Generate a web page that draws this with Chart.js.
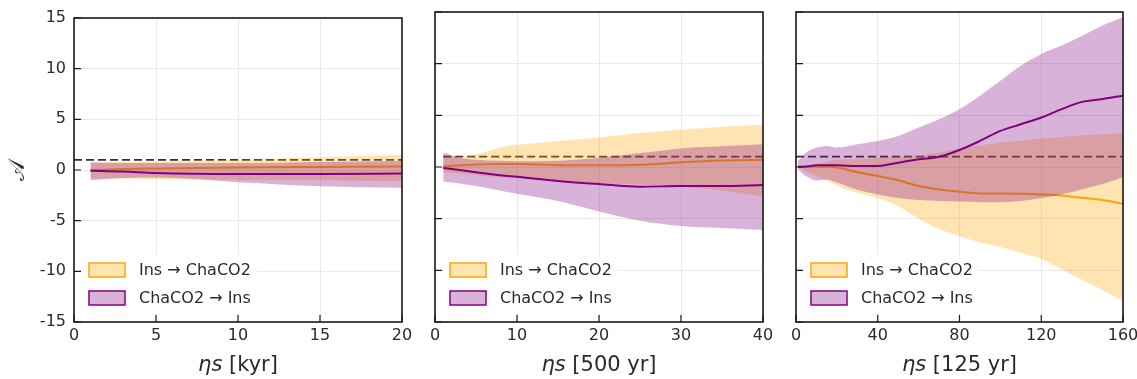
<!DOCTYPE html>
<html lang="en">
<head>
  <meta charset="UTF-8">
  <title>Adaptation vs time step</title>
  <script src="https://cdn.jsdelivr.net/npm/chart.js"></script>
  <style>
    body, html { margin: 0; padding: 0; background: #fff; overflow: hidden; }
    .panel { position: absolute; top: 0; height: 379px; }
    #p1 { left: 0; width: 425px; }
    #p2 { left: 420px; width: 366px; }
    #p3 { left: 781px; width: 356px; }
  </style>
</head>
<body>
  <div class="panel" id="p1"><canvas id="c1"></canvas></div>
  <div class="panel" id="p2"><canvas id="c2"></canvas></div>
  <div class="panel" id="p3"><canvas id="c3"></canvas></div>

<script>
// shared axis ticks
const yTicks = [-15, -10, -5, 0, 5, 10, 15];
const refLevel = 1;
const legendLabels = ['Ins \u2192 ChaCO2', 'ChaCO2 \u2192 Ins'];

// panel 1: ηs [kyr]
const xTicks1 = [0, 5, 10, 15, 20];
const x1 = [1, 3, 5, 10, 15, 20];
const insMean1 = [0.0, 0.1, 0.15, 0.25, 0.3, 0.35];
const insHi1 = [0.75, 0.8, 0.85, 1.0, 1.25, 1.5];
const insLo1 = [-0.85, -0.85, -0.9, -0.95, -1.0, -1.1];
const chaMean1 = [-0.07, -0.15, -0.3, -0.4, -0.4, -0.35];
const chaHi1 = [0.75, 0.7, 0.7, 0.7, 0.8, 0.9];
const chaLo1 = [-1.0, -0.8, -0.75, -1.2, -1.6, -1.75];
const refX1 = [0, 20];

// panel 2: ηs [500 yr]
const xTicks2 = [0, 10, 20, 30, 40];
const x2 = [1, 3, 5, 8, 10, 15, 20, 25, 30, 35, 40];
const insMean2 = [0.05, 0.15, 0.25, 0.3, 0.3, 0.18, 0.16, 0.22, 0.45, 0.62, 0.7];
const insHi2 = [1.05, 1.0, 1.2, 1.9, 2.15, 2.5, 2.85, 3.3, 3.6, 3.9, 4.1];
const insLo2 = [-0.5, -0.6, -0.8, -1.0, -1.1, -1.3, -1.55, -1.7, -1.9, -2.3, -2.85];
const chaMean2 = [-0.1, -0.3, -0.5, -0.8, -0.95, -1.35, -1.65, -1.9, -1.85, -1.85, -1.75];
const chaHi2 = [1.4, 0.9, 0.7, 0.6, 0.55, 0.6, 0.9, 1.35, 1.8, 2.0, 2.2];
const chaLo2 = [-1.4, -1.6, -1.85, -2.3, -2.6, -3.3, -4.3, -5.2, -5.7, -5.9, -6.1];
const refX2 = [1, 40];

// panel 3: ηs [125 yr]
const xTicks3 = [0, 40, 80, 120, 160];
const x3 = [1, 5, 10, 15, 20, 30, 40, 50, 60, 70, 80, 90, 100, 110, 120, 130, 140, 150, 160];
const insMean3 = [0.0, 0.0, 0.05, 0.03, -0.05, -0.49, -0.87, -1.29, -1.84, -2.17, -2.39, -2.56, -2.56, -2.59, -2.65, -2.75, -2.98, -3.2, -3.56];
const insHi3 = [0.05, 0.15, 0.25, 0.5, 0.7, 0.75, 0.9, 1.0, 1.13, 1.39, 1.78, 2.05, 2.36, 2.55, 2.75, 2.9, 3.07, 3.17, 3.27];
const insLo3 = [-0.05, -0.4, -0.9, -1.3, -1.8, -2.5, -3.0, -3.8, -5.0, -6.0, -6.7, -7.3, -7.75, -8.3, -8.9, -9.9, -10.9, -11.9, -13.0];
const chaMean3 = [0.03, 0.05, 0.16, 0.16, 0.16, 0.1, 0.1, 0.42, 0.74, 1.0, 1.65, 2.52, 3.49, 4.14, 4.79, 5.6, 6.3, 6.57, 6.9];
const chaHi3 = [0.58, 1.4, 1.88, 2.04, 1.88, 2.2, 2.52, 3.0, 3.82, 4.63, 5.6, 6.9, 8.35, 9.8, 10.94, 11.75, 12.7, 13.7, 14.5];
const chaLo3 = [-0.23, -0.9, -1.3, -1.2, -1.5, -2.2, -2.65, -3.0, -3.2, -3.3, -3.35, -3.4, -3.4, -3.3, -3.0, -2.65, -2.15, -1.65, -1.0];
const refX3 = [0, 160];

const ORANGE = '#ffa500';
const PURPLE = '#800080';
const ORANGE_FILL = 'rgba(255, 165, 0, 0.3)';
const PURPLE_FILL = 'rgba(128, 0, 128, 0.3)';
const TEXT = '#2a2a2a';

// frame, inward ticks, legend and titles
const framePlugin = {
  id: 'frame',
  afterDraw(chart, args, opts) {
    const { ctx, chartArea: a, scales } = chart;
    ctx.save();

    // legend (white box hides grid lines)
    const bx = a.left + 15, by = a.bottom - 59;
    ctx.font = '16px "DejaVu Sans"';
    const tw = Math.max(...legendLabels.map(t => ctx.measureText(t).width));
    ctx.fillStyle = '#fff';
    ctx.fillRect(bx - 8, by - 8, 50 + tw + 14, 58);
    const entries = [[ORANGE, ORANGE_FILL], [PURPLE, PURPLE_FILL]];
    entries.forEach(([line, fill], i) => {
      const y = by + i * 28;
      ctx.fillStyle = fill;
      ctx.fillRect(bx, y, 36, 14);
      ctx.strokeStyle = line;
      ctx.lineWidth = 1.5;
      ctx.strokeRect(bx, y, 36, 14);
      ctx.fillStyle = TEXT;
      ctx.textBaseline = 'middle';
      ctx.textAlign = 'left';
      ctx.fillText(legendLabels[i], bx + 50, y + 7.5);
    });

    // inward tick marks
    ctx.strokeStyle = '#1a1a1a';
    ctx.lineWidth = 1.2;
    ctx.beginPath();
    scales.x.ticks.forEach(t => {
      const px = scales.x.getPixelForValue(t.value);
      ctx.moveTo(px, a.bottom); ctx.lineTo(px, a.bottom - 7);
    });
    scales.y.ticks.forEach(t => {
      const py = scales.y.getPixelForValue(t.value);
      ctx.moveTo(a.left, py); ctx.lineTo(a.left + 7, py);
    });
    ctx.stroke();

    ctx.lineWidth = 1.6;
    ctx.strokeRect(a.left, a.top, a.right - a.left, a.bottom - a.top);

    // x title: italic ηs + unit
    const cx = (a.left + a.right) / 2;
    ctx.fillStyle = TEXT;
    ctx.textBaseline = 'alphabetic';
    ctx.textAlign = 'left';
    const f1 = 'italic 21px "DejaVu Sans"', f2 = '21px "DejaVu Sans"';
    ctx.font = f1; const w1 = ctx.measureText('ηs').width;
    ctx.font = f2; const w2 = ctx.measureText(' ' + opts.unit).width;
    let sx = cx - (w1 + w2) / 2;
    ctx.font = f1; ctx.fillText('ηs', sx, 371);
    ctx.font = f2; ctx.fillText(' ' + opts.unit, sx + w1, 371);

    if (opts.yTitle) {
      ctx.translate(18, (a.top + a.bottom) / 2);
      ctx.rotate(-Math.PI / 2);
      ctx.textAlign = 'center';
      ctx.textBaseline = 'middle';
      ctx.font = '22px "DejaVu Sans"';
      ctx.fillText('\u{1D49C}', 0, 0);
    }
    ctx.restore();
  }
};

function makePanel(id, p) {
  const pts = ys => p.x.map((x, i) => ({ x: x, y: ys[i] }));
  const band = { borderWidth: 0, borderColor: 'transparent', pointRadius: 0 };
  new Chart(document.getElementById(id), {
    type: 'line',
    data: {
      datasets: [
        { data: pts(p.chaMean), borderColor: PURPLE, borderWidth: 2, pointRadius: 0, fill: false },
        Object.assign({ data: pts(p.chaHi), backgroundColor: PURPLE_FILL, fill: '+1' }, band),
        Object.assign({ data: pts(p.chaLo), fill: false }, band),
        { data: pts(p.insMean), borderColor: ORANGE, borderWidth: 2, pointRadius: 0, fill: false },
        Object.assign({ data: pts(p.insHi), backgroundColor: ORANGE_FILL, fill: '+1' }, band),
        Object.assign({ data: pts(p.insLo), fill: false }, band),
        { data: p.refX.map(x => ({ x: x, y: refLevel })), borderColor: 'rgba(25,25,25,0.9)',
          borderWidth: 1.8, borderDash: [8, 4], pointRadius: 0, fill: false, cubicInterpolationMode: 'default', tension: 0 }
      ]
    },
    options: {
      responsive: true,
      maintainAspectRatio: false,
      animation: false,
      layout: { padding: { top: p.top, right: p.right, left: 0, bottom: 0 } },
      plugins: {
        legend: { display: false },
        tooltip: { enabled: false },
        frame: { unit: p.unit, yTitle: p.showY }
      },
      elements: { line: { cubicInterpolationMode: 'monotone' } },
      scales: {
        x: {
          type: 'linear',
          min: p.xTicks[0],
          max: p.xTicks[p.xTicks.length - 1],
          ticks: { stepSize: p.xTicks[1] - p.xTicks[0], color: TEXT, font: { family: 'DejaVu Sans', size: 16 }, padding: 4, maxRotation: 0 },
          grid: { color: '#e9e9e9', drawTicks: false },
          border: { display: false },
          afterFit: s => { s.height = 57; s.paddingLeft = 0; s.paddingRight = 0; }
        },
        y: {
          min: yTicks[0],
          max: yTicks[yTicks.length - 1],
          ticks: { stepSize: yTicks[1] - yTicks[0], display: p.showY, color: TEXT, font: { family: 'DejaVu Sans', size: 16 }, padding: 8 },
          grid: { color: '#e9e9e9', drawTicks: false },
          border: { display: false },
          afterFit: s => { s.width = p.yWidth; s.paddingTop = 0; s.paddingBottom = 0; }
        }
      }
    },
    plugins: [framePlugin]
  });
}

makePanel('c1', { x: x1, xTicks: xTicks1, insMean: insMean1, insHi: insHi1, insLo: insLo1,
  chaMean: chaMean1, chaHi: chaHi1, chaLo: chaLo1, refX: refX1, unit: '[kyr]', showY: true, yWidth: 74, top: 18, right: 23 });
makePanel('c2', { x: x2, xTicks: xTicks2, insMean: insMean2, insHi: insHi2, insLo: insLo2,
  chaMean: chaMean2, chaHi: chaHi2, chaLo: chaLo2, refX: refX2, unit: '[500 yr]', showY: false, yWidth: 15, top: 12, right: 23 });
makePanel('c3', { x: x3, xTicks: xTicks3, insMean: insMean3, insHi: insHi3, insLo: insLo3,
  chaMean: chaMean3, chaHi: chaHi3, chaLo: chaLo3, refX: refX3, unit: '[125 yr]', showY: false, yWidth: 15, top: 12, right: 14 });
</script>
</body>
</html>
